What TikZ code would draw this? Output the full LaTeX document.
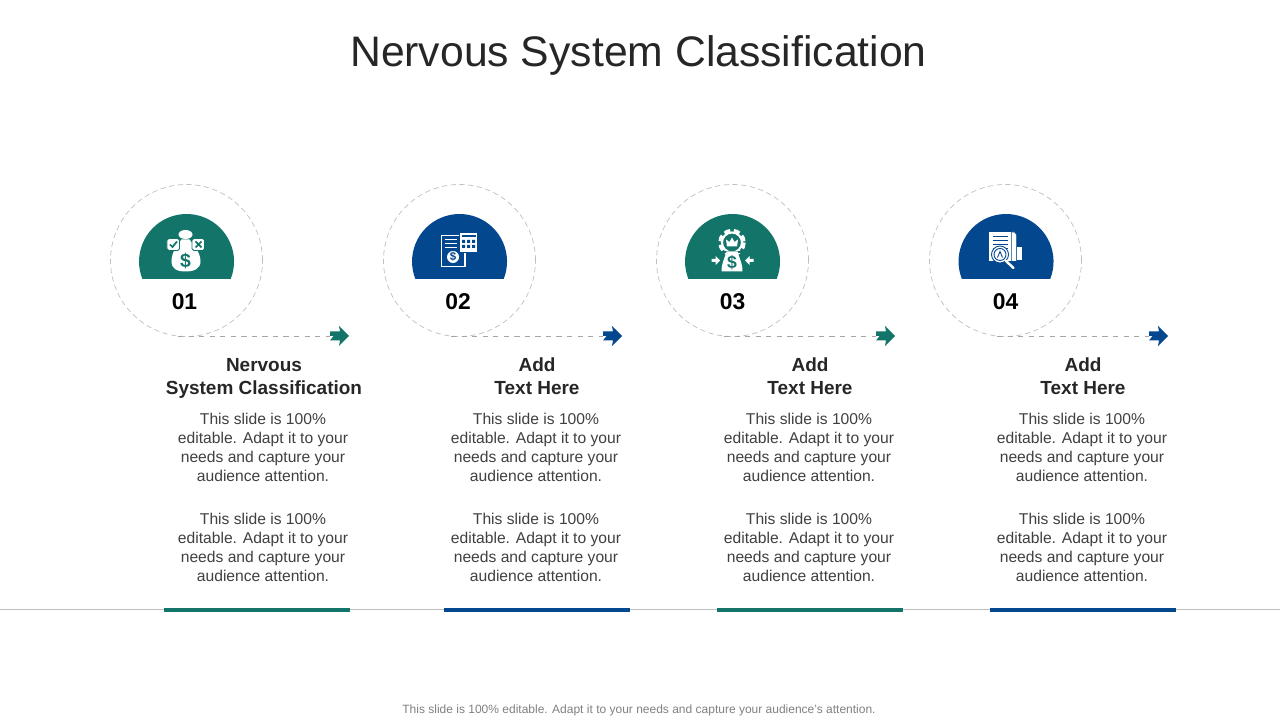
\documentclass[tikz,border=0pt]{standalone}
\usepackage{fontspec}
\setmainfont{Liberation Sans}
\usepackage{xcolor}
\usepackage{tikz}
\usetikzlibrary{positioning}

\definecolor{tealgreen}{HTML}{13756A}
\definecolor{deepblue}{HTML}{03478F}
\definecolor{bodygray}{HTML}{404040}
\definecolor{titlegray}{HTML}{262626}

\newcommand{\BodyText}{This slide is 100\%\\editable. Adapt it to your\\needs and capture your\\audience attention.}

\tikzset{
	ringline/.style={draw=black!25, densely dashed, line width=0.4pt},
	leadline/.style={draw=black!35, dashed, line width=0.4pt},
	baseline/.style={draw=black!25, line width=0.4pt},
	barline/.style={line width=0.08cm},
	titletext/.style={text=titlegray, font=\fontsize{24.3}{30}\selectfont},
	numbertext/.style={text=black, font=\fontsize{13}{16}\selectfont\bfseries},
	headtext/.style={text=titlegray, align=center, font=\fontsize{10.8}{13}\selectfont\bfseries},
	bodytext/.style={text=bodygray, align=center, font=\fontsize{8.9}{10.8}\selectfont},
	foottext/.style={text=black!50, font=\fontsize{6.83}{8}\selectfont},
	icon/.style={x=0.02cm, y=-0.02cm},
	dollar/.style={inner sep=0pt, font=\fontsize{8}{8}\selectfont\bfseries}
}

\begin{document}
\begin{tikzpicture}

	% ------------------------------------------------
	% Ensure the dimensions of graphic are appropriate
	\useasboundingbox (0,0) rectangle (25.60cm,14.40cm);

	% ------------------------------------------------
	% Relevant coordinates
	\coordinate (C1) at (3.73cm,9.19cm);
	\path (C1) +(5.46cm,0) coordinate (C2);
	\path (C2) +(5.46cm,0) coordinate (C3);
	\path (C3) +(5.46cm,0) coordinate (C4);

	\coordinate (RuleBeg) at (0,2.22cm);
	\coordinate (RuleEnd) at (25.60cm,2.22cm);

	% ----------------
	% Title and footer
	\node[titletext] (Title) at (12.77cm,13.29cm) {Nervous System Classification};
	\node[foottext] (Footer) at (12.78cm,0.20cm) {This slide is 100\% editable. Adapt it to your needs and capture your audience's attention.};

	% ----------------
	% Base rule
	\draw[baseline] (RuleBeg) -- (RuleEnd);

	%%%%%%%%%%%%%%%%%%%%%%%%%%%%%%%%%%%%%%%%%
	% Column 1
	\draw[ringline] (C1) circle [radius=1.52cm];
	\fill[tealgreen] (C1) +(0.884cm,-0.37cm) arc [start angle=-21.6, end angle=201.6, radius=0.95cm] -- cycle;
	\node[numbertext] (Num1) at ([xshift=-0.04cm,yshift=-0.83cm]C1) {01};
	\path (C1) +(-0.17cm,-1.51cm) coordinate (Lead1);
	\path (C1) +(2.87cm,-1.51cm) coordinate (Tip1);
	\draw[leadline] (Lead1) -- (Tip1);
	\fill[tealgreen] (Tip1) -- +(0,0.09cm) -- +(0.20cm,0.09cm) -- +(0.18cm,0.20cm) -- +(0.38cm,0) -- +(0.18cm,-0.20cm) -- +(0.20cm,-0.09cm) -- +(0,-0.09cm) -- +(0.07cm,0) -- cycle;
	\node[headtext] (Head1) at ([xshift=1.55cm,yshift=-2.36cm]C1) {Nervous\\System Classification};
	\node[bodytext] (BodyA1) at ([xshift=1.53cm,yshift=-3.74cm]C1) {\BodyText};
	\node[bodytext] (BodyB1) at ([xshift=1.53cm,yshift=-5.74cm]C1) {\BodyText};
	\coordinate (Bar1Beg) at (3.28cm,2.20cm);
	\coordinate (Bar1End) at (7.00cm,2.20cm);
	\draw[barline, tealgreen] (Bar1Beg) -- (Bar1End);

	% money bag with two tick boxes
	\begin{scope}[shift={(C1)}, icon]
		\fill[white] (-1,-26) ellipse [x radius=7, y radius=4.5];
		\fill[white] (-5,-21) -- (3,-21) .. controls (8,-14) and (14,-8) .. (14,1) .. controls (14,8) and (8,11) .. (-1,11) .. controls (-10,11) and (-15,8) .. (-15,1) .. controls (-15,-8) and (-10,-14) .. (-5,-21) -- cycle;
		\fill[white, draw=tealgreen, line width=0.5pt, rounded corners=1pt] (-19.5,-22) rectangle (-7,-10);
		\fill[white, draw=tealgreen, line width=0.5pt, rounded corners=1pt] (5.5,-22) rectangle (18,-10);
		\draw[tealgreen, line width=1pt] (-16.5,-16) -- (-14,-13.5) -- (-9.5,-19);
		\draw[tealgreen, line width=1pt] (9,-19) -- (15,-13) (15,-19) -- (9,-13);
		\node[dollar, text=tealgreen] (Dollar1) at (-1,0.5) {\fontsize{11}{11}\selectfont\$};
	\end{scope}

	%%%%%%%%%%%%%%%%%%%%%%%%%%%%%%%%%%%%%%%%%
	% Column 2
	\draw[ringline] (C2) circle [radius=1.52cm];
	\fill[deepblue] (C2) +(0.884cm,-0.37cm) arc [start angle=-21.6, end angle=201.6, radius=0.95cm] -- cycle;
	\node[numbertext] (Num2) at ([xshift=-0.03cm,yshift=-0.83cm]C2) {02};
	\path (C2) +(-0.17cm,-1.51cm) coordinate (Lead2);
	\path (C2) +(2.87cm,-1.51cm) coordinate (Tip2);
	\draw[leadline] (Lead2) -- (Tip2);
	\fill[deepblue] (Tip2) -- +(0,0.09cm) -- +(0.20cm,0.09cm) -- +(0.18cm,0.20cm) -- +(0.38cm,0) -- +(0.18cm,-0.20cm) -- +(0.20cm,-0.09cm) -- +(0,-0.09cm) -- +(0.07cm,0) -- cycle;
	\node[headtext] (Head2) at ([xshift=1.55cm,yshift=-2.32cm]C2) {Add\\Text Here};
	\node[bodytext] (BodyA2) at ([xshift=1.53cm,yshift=-3.74cm]C2) {\BodyText};
	\node[bodytext] (BodyB2) at ([xshift=1.53cm,yshift=-5.74cm]C2) {\BodyText};
	\coordinate (Bar2Beg) at (8.88cm,2.20cm);
	\coordinate (Bar2End) at (12.60cm,2.20cm);
	\draw[barline, deepblue] (Bar2Beg) -- (Bar2End);

	% invoice with calculator
	\begin{scope}[shift={(C2)}, icon]
		\draw[white, line width=0.8pt] (-18,-25) rectangle (5.5,6);
		\draw[white, line width=0.6pt] (-15,-21) -- (-3,-21) (-15,-17) -- (-3,-17) (-15,-13) -- (-3,-13);
		\fill[white] (-6.5,-3.5) circle [radius=6];
		\node[dollar, text=deepblue] (Dollar2) at (-6.5,-3.5) {\fontsize{6.5}{6.5}\selectfont\$};
		\fill[white, draw=deepblue, line width=0.5pt] (0,-28) rectangle (18,-8);
		\fill[deepblue] (2,-23) rectangle (16,-25.5);
		\fill[deepblue] (2.5,-20.5) rectangle (5.5,-17.5) (7.5,-20.5) rectangle (10.5,-17.5) (12.5,-20.5) rectangle (15.5,-17.5);
		\fill[deepblue] (2.5,-15.5) rectangle (5.5,-12.5) (7.5,-15.5) rectangle (10.5,-12.5) (12.5,-15.5) rectangle (15.5,-12.5);
	\end{scope}

	%%%%%%%%%%%%%%%%%%%%%%%%%%%%%%%%%%%%%%%%%
	% Column 3
	\draw[ringline] (C3) circle [radius=1.52cm];
	\fill[tealgreen] (C3) +(0.884cm,-0.37cm) arc [start angle=-21.6, end angle=201.6, radius=0.95cm] -- cycle;
	\node[numbertext] (Num3) at ([yshift=-0.83cm]C3) {03};
	\path (C3) +(-0.17cm,-1.51cm) coordinate (Lead3);
	\path (C3) +(2.87cm,-1.51cm) coordinate (Tip3);
	\draw[leadline] (Lead3) -- (Tip3);
	\fill[tealgreen] (Tip3) -- +(0,0.09cm) -- +(0.20cm,0.09cm) -- +(0.18cm,0.20cm) -- +(0.38cm,0) -- +(0.18cm,-0.20cm) -- +(0.20cm,-0.09cm) -- +(0,-0.09cm) -- +(0.07cm,0) -- cycle;
	\node[headtext] (Head3) at ([xshift=1.55cm,yshift=-2.32cm]C3) {Add\\Text Here};
	\node[bodytext] (BodyA3) at ([xshift=1.53cm,yshift=-3.74cm]C3) {\BodyText};
	\node[bodytext] (BodyB3) at ([xshift=1.53cm,yshift=-5.74cm]C3) {\BodyText};
	\coordinate (Bar3Beg) at (14.34cm,2.20cm);
	\coordinate (Bar3End) at (18.06cm,2.20cm);
	\draw[barline, tealgreen] (Bar3Beg) -- (Bar3End);

	% gear with crown above a bag, squeezed by two arrows
	\begin{scope}[shift={(C3)}, icon]
		\draw[white, line width=2pt, dash pattern=on 3.5pt off 2pt] (-0.5,-18) circle [radius=12];
		\draw[white, line width=1.2pt] (-0.5,-18) circle [radius=10];
		\fill[white] (-5.5,-14) -- (-6.5,-21) -- (-3,-18.5) -- (-0.5,-23) -- (2,-18.5) -- (5.5,-21) -- (4.5,-14) -- cycle;
		\fill[tealgreen] (-14,-9) rectangle (13,-7);
		\fill[white] (-6,-9) -- (5,-9) .. controls (6,-4) and (10,2) .. (10,11) -- (-11,11) .. controls (-11,2) and (-7,-4) .. (-6,-9) -- cycle;
		\node[dollar, text=tealgreen] (Dollar3) at (-0.5,2) {\fontsize{10}{10}\selectfont\$};
		\fill[white] (-21,-1.5) -- (-17,-1.5) -- (-17,-4.5) -- (-12.5,0) -- (-17,4.5) -- (-17,1.5) -- (-21,1.5) -- cycle;
		\fill[white] (21,-1.5) -- (17,-1.5) -- (17,-4.5) -- (12.5,0) -- (17,4.5) -- (17,1.5) -- (21,1.5) -- cycle;
	\end{scope}

	%%%%%%%%%%%%%%%%%%%%%%%%%%%%%%%%%%%%%%%%%
	% Column 4
	\draw[ringline] (C4) circle [radius=1.52cm];
	\fill[deepblue] (C4) +(0.894cm,-0.37cm) arc [start angle=-21.6, end angle=201.6, radius=0.95cm] -- cycle;
	\node[numbertext] (Num4) at ([yshift=-0.83cm]C4) {04};
	\path (C4) +(-0.17cm,-1.51cm) coordinate (Lead4);
	\path (C4) +(2.87cm,-1.51cm) coordinate (Tip4);
	\draw[leadline] (Lead4) -- (Tip4);
	\fill[deepblue] (Tip4) -- +(0,0.09cm) -- +(0.20cm,0.09cm) -- +(0.18cm,0.20cm) -- +(0.38cm,0) -- +(0.18cm,-0.20cm) -- +(0.20cm,-0.09cm) -- +(0,-0.09cm) -- +(0.07cm,0) -- cycle;
	\node[headtext] (Head4) at ([xshift=1.55cm,yshift=-2.32cm]C4) {Add\\Text Here};
	\node[bodytext] (BodyA4) at ([xshift=1.53cm,yshift=-3.74cm]C4) {\BodyText};
	\node[bodytext] (BodyB4) at ([xshift=1.53cm,yshift=-5.74cm]C4) {\BodyText};
	\coordinate (Bar4Beg) at (19.80cm,2.20cm);
	\coordinate (Bar4End) at (23.52cm,2.20cm);
	\draw[barline, deepblue] (Bar4Beg) -- (Bar4End);

	% document under a magnifier
	\begin{scope}[shift={(C4)}, icon]
		\fill[white] (-16.5,-28.5) -- (6,-28.5) -- (6,1) -- (-16.5,1) -- cycle;
		\fill[white, draw=deepblue, line width=0.3pt] (6,-28.5) -- (9,-28.5) -- (11,-26) -- (11,1) -- (6,1) -- cycle;
		\fill[white] (11,-13) rectangle (16,0);
		\draw[deepblue, line width=0.5pt] (-13,-24) -- (2,-24) (-13,-20) -- (2,-20) (-13,-16) -- (2,-16) (-13,-12) -- (2,-12);
		\fill[white, draw=deepblue, line width=0.5pt] (-5.5,-6) circle [radius=8.5];
		\draw[deepblue, line width=0.5pt] (-5.5,-6) circle [radius=6];
		\draw[deepblue, line width=0.5pt] (-8,-3) -- (-5.5,-9) -- (-3,-3);
		\draw[white, line width=1.4pt, line cap=round] (0.5,0.5) -- (8,7.5);
	\end{scope}

\end{tikzpicture}
\end{document}
